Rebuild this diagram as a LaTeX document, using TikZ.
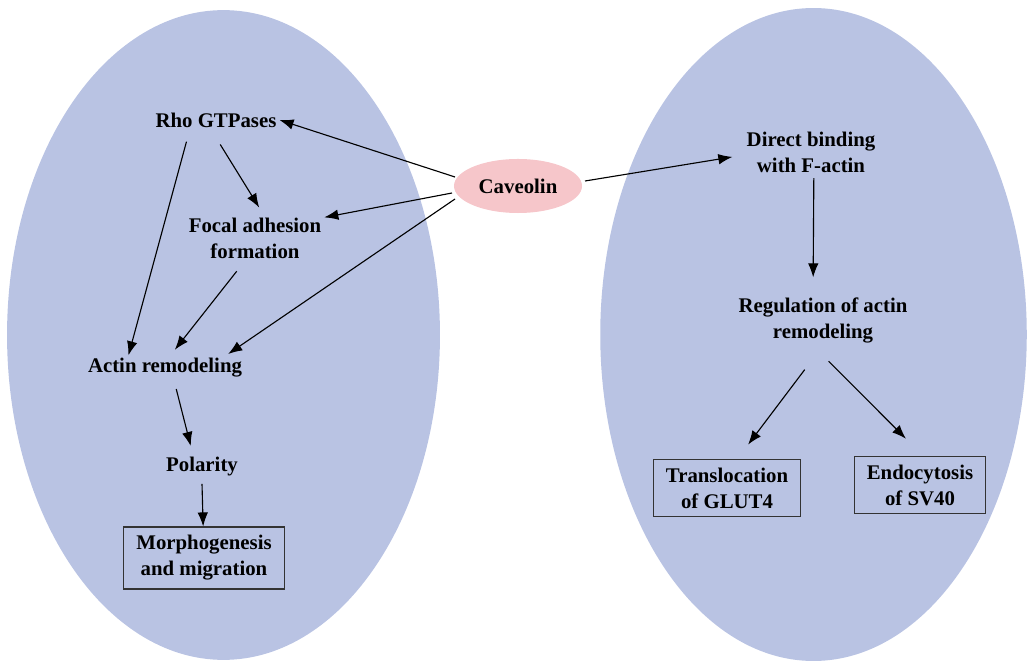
\documentclass[tikz,border=0pt]{standalone}
\usepackage{fontspec}
\setmainfont{Liberation Serif}
\usetikzlibrary{arrows.meta, shapes.geometric}
\definecolor{cellblue}{RGB}{185,195,227}
\definecolor{cavpink}{RGB}{246,198,202}
\tikzset{
  lbl/.style={font=\fontsize{14.8}{18.5}\selectfont\bfseries, align=center, inner sep=2pt},
  boxlbl/.style={lbl, draw=black!80, thick, inner xsep=9pt, inner ysep=6pt},
  arr/.style={-{Latex[length=10pt,width=7.5pt]}, thick}
}

\begin{document}
\begin{tikzpicture}[x=0.025cm, y=-0.025cm]
      \useasboundingbox (0,0) rectangle (1030,661);
      % 1. two cells
      \fill[cellblue] (223.5,335) ellipse [x radius=5.41cm, y radius=8.12cm];
      \fill[cellblue] (813.5,334.5) ellipse [x radius=5.33cm, y radius=8.16cm];

      % 2. caveolin in the middle
      \node[ellipse, fill=cavpink, minimum width=3.2cm, minimum height=1.35cm, lbl] (cav) at (518,186) {Caveolin};

      % 3. left side
      \node[lbl] (rho) at (216,120) {Rho GTPases};
      \node[lbl] (focal) at (255,238) {Focal adhesion\\formation};
      \node[lbl] (actin) at (165,368) {Actin remodeling};
      \node[lbl] (pol) at (202,467) {Polarity};
      \node[boxlbl] (morph) at (204,558) {Morphogenesis\\and migration};

      % 4. right side
      \node[lbl] (bind) at (811,152) {Direct binding\\with F-actin};
      \node[lbl] (reg) at (823,320) {Regulation of actin\\remodeling};
      \node[boxlbl] (glut) at (727,488) {Translocation\\of GLUT4};
      \node[boxlbl] (sv) at (920,485) {Endocytosis\\of SV40};

      % 5. arrows
      \coordinate (c1) at (455,177);
      \coordinate (c2) at (452,193);
      \coordinate (c3) at (455,199);
      \coordinate (c4) at (585,181);
      \draw[arr] (c1) -- (rho.east);
      \draw[arr] (c2) -- ([yshift=-2pt]focal.north east);
      \draw[arr] (c3) -- ([xshift=-12pt,yshift=1pt]actin.north east);
      \draw[arr] ([xshift=-21pt,yshift=-8pt]rho.south) -- ([xshift=-26pt]actin.north);
      \draw[arr] ([xshift=3pt,yshift=-10pt]rho.south) -- ([xshift=3pt,yshift=5pt]focal.north);
      \draw[arr] ([xshift=-13pt,yshift=-7pt]focal.south) -- ([xshift=7pt,yshift=4pt]actin.north);
      \draw[arr] ([xshift=8pt,yshift=-6pt]actin.south) -- ([xshift=-8pt,yshift=6pt]pol.north);
      \draw[arr] ([yshift=-3pt]pol.south) -- (morph);
      \draw[arr] (c4) -- ([xshift=-8pt,yshift=-3.5pt]bind.west);
      \draw[arr] ([xshift=2pt,yshift=-2pt]bind.south) -- ([xshift=-7pt,yshift=12pt]reg.north);
      \draw[arr] ([xshift=-13pt,yshift=-17pt]reg.south) -- ([xshift=15pt,yshift=10pt]glut.north);
      \draw[arr] ([xshift=4pt,yshift=-11pt]reg.south) -- ([xshift=-10pt,yshift=12pt]sv.north);
\end{tikzpicture}
\end{document}
